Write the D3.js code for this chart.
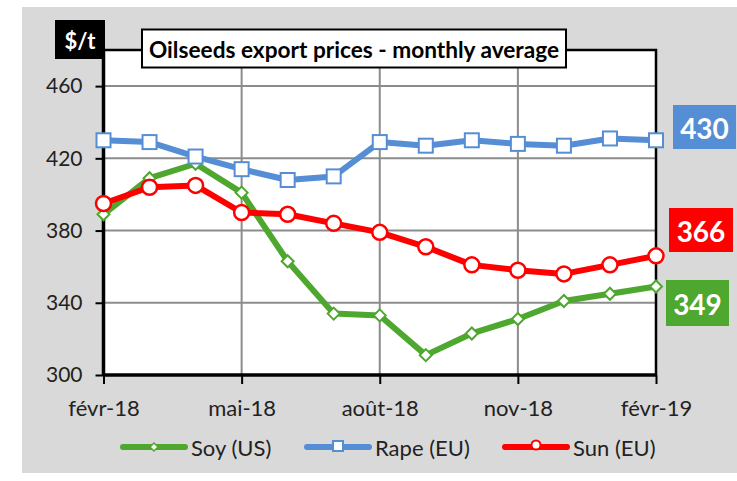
<!DOCTYPE html>
<html>
<head>
<meta charset="utf-8">
<script src="https://cdn.jsdelivr.net/npm/d3@7"></script>
<style>
  body { margin: 0; background: #fff; }
  svg { display: block; font-family: Lato, "Open Sans", sans-serif; }
</style>
</head>
<body>
<svg width="737" height="481"></svg>
<script>
const months = ["févr-18", "mars-18", "avr-18", "mai-18", "juin-18", "juil-18", "août-18",
  "sept-18", "oct-18", "nov-18", "déc-18", "janv-19", "févr-19"];
const tickMonths = ["févr-18", "mai-18", "août-18", "nov-18", "févr-19"];
const yTicks = [300, 340, 380, 420, 460];

const soy = [389, 409, 417, 401, 363, 334, 333, 311, 323, 331, 341, 345, 349];
const rape = [430, 429, 421, 414, 408, 410, 429, 427, 430, 428, 427, 431, 430];
const sun = [395, 404, 405, 390, 389, 384, 379, 371, 361, 358, 356, 361, 366];

const seriesNames = ["Soy (US)", "Rape (EU)", "Sun (EU)"];
const seriesColors = ["#4ea72e", "#558ed5", "#ff0000"];

const series = [
  {name: seriesNames[0], color: seriesColors[0], values: soy, marker: "diamond"},
  {name: seriesNames[1], color: seriesColors[1], values: rape, marker: "square"},
  {name: seriesNames[2], color: seriesColors[2], values: sun, marker: "circle"}
];

const svg = d3.select("svg");

// grey frame
svg.append("rect").attr("x", 22).attr("y", 7).attr("width", 715).attr("height", 466).attr("fill", "#d9d9d9");

const plotL = 103.5, plotR = 656, plotT = 50, plotB = 375;

const x = d3.scalePoint().domain(months).range([plotL, plotR]);
const y = d3.scaleLinear().domain([300, 480]).range([plotB, plotT]);

svg.append("rect").attr("x", plotL).attr("y", plotT).attr("width", plotR - plotL).attr("height", plotB - plotT).attr("fill", "#fff");

// grid
svg.append("g").selectAll("line")
  .data(yTicks.slice(1))
  .enter().append("line")
    .attr("x1", plotL).attr("x2", plotR)
    .attr("y1", d => y(d)).attr("y2", d => y(d))
    .attr("stroke", "#8c8c8c").attr("stroke-width", 2);

svg.append("g").selectAll("line")
  .data(tickMonths.slice(1, -1))
  .enter().append("line")
    .attr("x1", d => x(d)).attr("x2", d => x(d))
    .attr("y1", plotT).attr("y2", plotB)
    .attr("stroke", "#8c8c8c").attr("stroke-width", 2);

// frame top/right
svg.append("path")
  .attr("d", `M${plotL},${plotT}H${plotR}V${plotB}`)
  .attr("fill", "none").attr("stroke", "#000").attr("stroke-width", 2.5);

// axes
const yAxis = svg.append("g")
  .attr("transform", `translate(${plotL},0)`)
  .call(d3.axisLeft(y).tickValues(yTicks).tickSize(8).tickPadding(13));
yAxis.select(".domain").attr("stroke-width", 3.5).attr("d", `M0,${plotT}V${plotB}`);
yAxis.selectAll(".tick line").attr("stroke-width", 2);
yAxis.selectAll("text").attr("font-size", 21).attr("fill", "#222").attr("font-family", "Lato, sans-serif");

const xAxis = svg.append("g")
  .attr("transform", `translate(0,${plotB})`)
  .call(d3.axisBottom(x).tickValues(tickMonths).tickSize(9).tickPadding(16));
xAxis.select(".domain").attr("stroke-width", 3.5).attr("d", `M${plotL},0H${plotR}`);
xAxis.selectAll(".tick line").attr("stroke-width", 2);
xAxis.selectAll("text").attr("font-size", 22).attr("fill", "#222").attr("font-family", "Lato, sans-serif");

// lines
const line = d3.line().x((d, i) => x(months[i])).y(d => y(d));

const drawMarker = (g, type, color, cx, cy) => {
  if (type === "square") {
    g.append("rect").attr("x", cx - 7).attr("y", cy - 7).attr("width", 14).attr("height", 14)
      .attr("fill", "#fff").attr("stroke", color).attr("stroke-width", 2);
  } else if (type === "circle") {
    g.append("circle").attr("cx", cx).attr("cy", cy).attr("r", 7.5)
      .attr("fill", "#fff").attr("stroke", color).attr("stroke-width", 2.5);
  } else {
    g.append("path").attr("d", `M${cx},${cy - 6}L${cx + 6},${cy}L${cx},${cy + 6}L${cx - 6},${cy}Z`)
      .attr("fill", "#fff").attr("stroke", color).attr("stroke-width", 2);
  }
};

series.forEach(s => {
  svg.append("path")
    .attr("d", line(s.values))
    .attr("fill", "none")
    .attr("stroke", s.color)
    .attr("stroke-width", 6)
    .attr("stroke-linejoin", "round");
});
series.forEach(s => {
  const g = svg.append("g");
  s.values.forEach((v, i) => drawMarker(g, s.marker, s.color, x(months[i]), y(v)));
});

// end value labels
const endBoxes = [
  {s: series[1], x: 673, y: 105, w: 63, h: 44},
  {s: series[2], x: 669, y: 208, w: 64, h: 44},
  {s: series[0], x: 666, y: 280, w: 63, h: 46}
];
endBoxes.forEach(b => {
  svg.append("rect").attr("x", b.x).attr("y", b.y).attr("width", b.w).attr("height", b.h).attr("fill", b.s.color);
  svg.append("text")
    .attr("x", b.x + b.w / 2).attr("y", b.y + b.h / 2 + 1)
    .attr("text-anchor", "middle").attr("dominant-baseline", "central")
    .attr("fill", "#fff").attr("font-weight", "bold").attr("font-size", 28)
    .text(b.s.values[b.s.values.length - 1]);
});

// unit label
svg.append("rect").attr("x", 55).attr("y", 20).attr("width", 50).attr("height", 39).attr("fill", "#000");
svg.append("text").attr("x", 80).attr("y", 40).attr("text-anchor", "middle").attr("dominant-baseline", "central")
  .attr("fill", "#fff").attr("font-weight", "bold").attr("font-size", 22).text("$/t");

// title
svg.append("rect").attr("x", 142).attr("y", 29.5).attr("width", 424).attr("height", 38)
  .attr("fill", "#fff").attr("stroke", "#000").attr("stroke-width", 2);
svg.append("text").attr("x", 354).attr("y", 49).attr("text-anchor", "middle").attr("dominant-baseline", "central")
  .attr("font-weight", "bold").attr("font-size", 23).attr("fill", "#000")
  .attr("textLength", 410).attr("lengthAdjust", "spacingAndGlyphs")
  .text("Oilseeds export prices - monthly average");

// legend
const legendX = [123, 307, 505];
const legend = svg.append("g").selectAll("g")
  .data(series)
  .enter().append("g")
    .attr("transform", (d, i) => `translate(${legendX[i]},447)`);
legend.append("line").attr("x1", 0).attr("x2", 62).attr("y1", 0).attr("y2", 0)
  .attr("stroke", d => d.color).attr("stroke-width", 6).attr("stroke-linecap", "round");
legend.each(function (d) {
  const g = d3.select(this);
  if (d.marker === "square") {
    g.append("rect").attr("x", 26).attr("y", -6).attr("width", 10).attr("height", 10)
      .attr("fill", "#fff").attr("stroke", d.color).attr("stroke-width", 2);
  } else if (d.marker === "circle") {
    g.append("circle").attr("cx", 31).attr("cy", -2).attr("r", 4.5)
      .attr("fill", "#fff").attr("stroke", d.color).attr("stroke-width", 2);
  } else {
    g.append("path").attr("d", "M31,-4L35,0L31,4L27,0Z").attr("fill", "#fff").attr("stroke", d.color).attr("stroke-width", 1.5);
  }
});
legend.append("text").attr("x", 68).attr("y", 0).attr("dominant-baseline", "central")
  .attr("font-size", 22).attr("fill", "#222").text(d => d.name);
</script>
</body>
</html>
